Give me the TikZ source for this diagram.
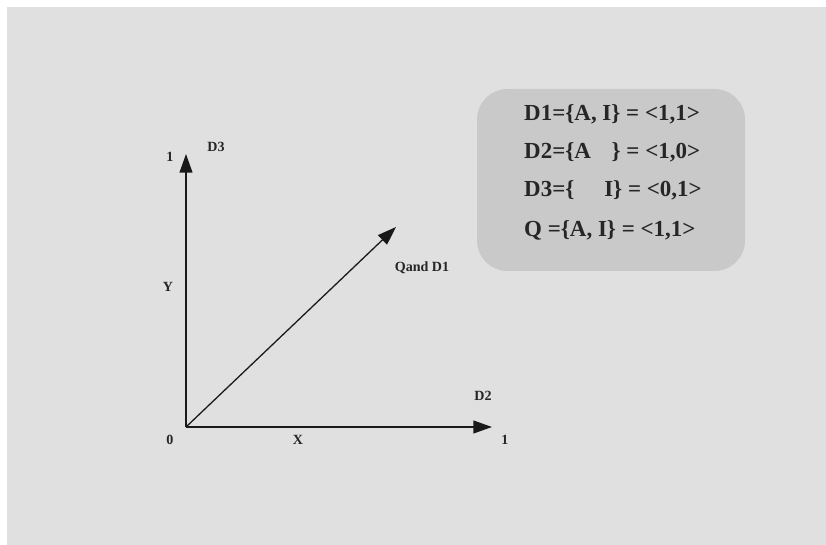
\documentclass[tikz,border=0pt]{standalone}
\usepackage{fontspec}
\setmainfont{Liberation Serif}
\usetikzlibrary{arrows.meta,positioning}

\begin{document}
\begin{tikzpicture}[
            x=0.03cm, y=-0.03cm,
            axis/.style={-{Triangle[length=16pt,width=11pt]}, line width=1.4pt, black!90},
            lbl/.style={font=\bfseries\fontsize{12}{14}\selectfont, text=black!85},
            eqline/.style={anchor=west, font=\bfseries\fontsize{19.6}{22}\selectfont, text=black!85, inner sep=0pt},
            card/.style={draw=none, fill=black!21, rounded corners=26pt}
        ]
            % Page and background
            \useasboundingbox (0,0) rectangle (826,545);
            \fill[white] (0,0) rectangle (826,545);
            \fill[black!12] (7,7) rectangle (826,545);

            % Equation card
            \node[card, minimum width=268*0.03cm, minimum height=182*0.03cm] (card) at (611,180) {};
            \node[eqline] (d1) at (524,114) {D1=\{A, I\} = <1,1>};
            \node[eqline] (d2) at (524,152) {D2=\{A\hspace{0.9em}\} = <1,0>};
            \node[eqline] (d3) at (524,190) {D3=\{\hspace{1.3em}I\} = <0,1>};
            \node[eqline] (q) at (524,230) {Q =\{A, I\} = <1,1>};

            % Axes
            \coordinate (origin) at (186,427);
            \coordinate (ytip) at (186,154);
            \coordinate (xtip) at (492,427);
            \coordinate (dtip) at (396,227);
            \draw[axis] (origin) -- (ytip);
            \draw[axis] (origin) -- (xtip);
            \draw[axis, line width=1.1pt] (origin) -- (dtip);

            % Labels
            \node[lbl] (yone) at (170,157) {1};
            \node[lbl] (dthree) at (216,147) {D3};
            \node[lbl] (ylab) at (168,287) {Y};
            \node[lbl] (qd) at (422,268) {Qand D1};
            \node[lbl] (dtwo) at (483,396) {D2};
            \node[lbl] (zero) at (170,440) {0};
            \node[lbl] (xlab) at (298,440) {X};
            \node[lbl] (xone) at (505,440) {1};
        \end{tikzpicture}
\end{document}
